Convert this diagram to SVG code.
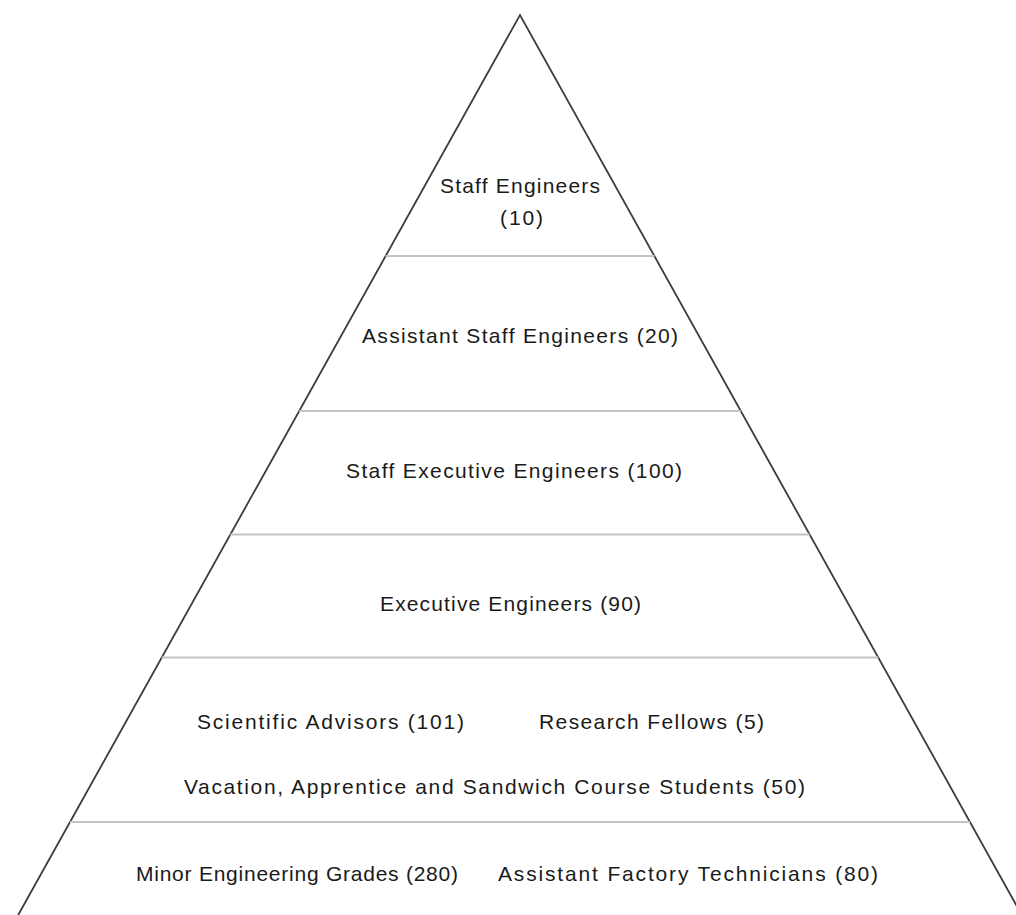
<svg xmlns="http://www.w3.org/2000/svg" width="1016" height="915" viewBox="0 0 1016 915">
<style>
.edge{fill:none;stroke:#3c3c3c;stroke-width:1.8}
.tier{stroke:#c4c4c4;stroke-width:2}
text{font-family:"Liberation Sans","Open Sans",sans-serif;font-size:21px;fill:#1a1a1a}
</style>
<rect width="1016" height="915" fill="#ffffff"/>
<g id="pyramid">
<polyline class="edge" points="18.2,915 520,15 1021.8,915"/>
</g>
<g id="connectors">
<line class="tier" x1="385.6" y1="256" x2="654.4" y2="256"/>
<line class="tier" x1="299.2" y1="411" x2="740.8" y2="411"/>
<line class="tier" x1="230.3" y1="534.5" x2="809.7" y2="534.5"/>
<line class="tier" x1="161.7" y1="657.5" x2="878.3" y2="657.5"/>
<line class="tier" x1="70" y1="822" x2="970" y2="822"/>
</g>
<g id="staff-engineers">
<text x="440" y="193" textLength="160" lengthAdjust="spacing">Staff Engineers</text>
<text x="500" y="225" textLength="43" lengthAdjust="spacing">(10)</text>
</g>
<g id="assistant-staff-engineers">
<text x="362" y="343" textLength="316" lengthAdjust="spacing">Assistant Staff Engineers (20)</text>
</g>
<g id="staff-executive-engineers">
<text x="346" y="478" textLength="336" lengthAdjust="spacing">Staff Executive Engineers (100)</text>
</g>
<g id="executive-engineers">
<text x="380" y="611" textLength="261" lengthAdjust="spacing">Executive Engineers (90)</text>
</g>
<g id="scientific-advisors">
<text x="197" y="729" textLength="267" lengthAdjust="spacing">Scientific Advisors (101)</text>
</g>
<g id="research-fellows">
<text x="539" y="729" textLength="225" lengthAdjust="spacing">Research Fellows (5)</text>
</g>
<g id="students">
<text x="184" y="794" textLength="621" lengthAdjust="spacing">Vacation, Apprentice and Sandwich Course Students (50)</text>
</g>
<g id="minor-engineering-grades">
<text x="136" y="881" textLength="322" lengthAdjust="spacing">Minor Engineering Grades (280)</text>
</g>
<g id="assistant-factory-technicians">
<text x="498" y="881" textLength="380" lengthAdjust="spacing">Assistant Factory Technicians (80)</text>
</g>
</svg>
